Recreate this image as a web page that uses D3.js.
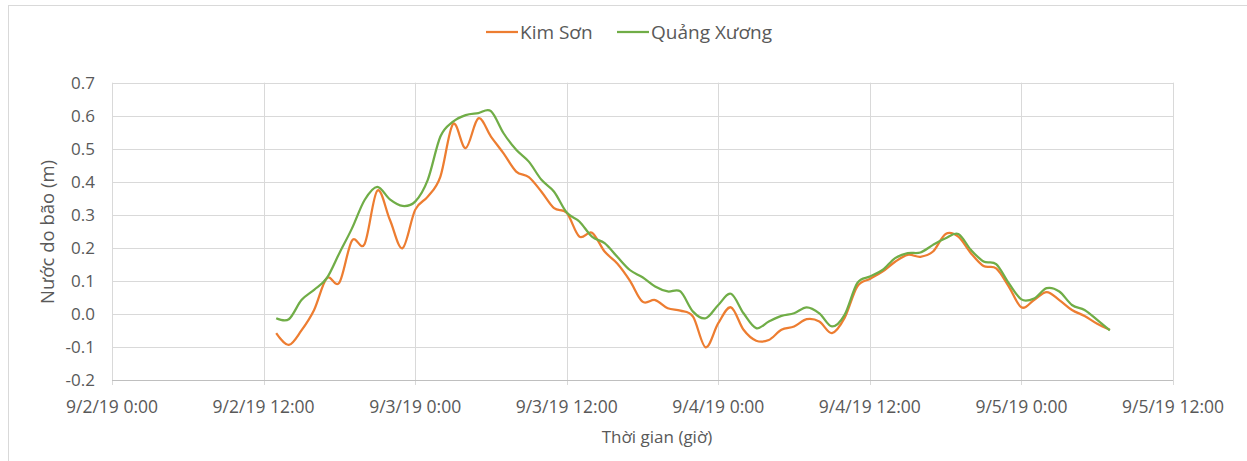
<!DOCTYPE html>
<html>
<head>
<meta charset="utf-8">
<script src="https://cdn.jsdelivr.net/npm/d3@7"></script>
<style>
  body { margin: 0; background: #fff; }
  text { font-family: "Open Sans", "Noto Sans", sans-serif; fill: #595959; }
</style>
</head>
<body>
<script>
const width = 1247;
const height = 461;

// hourly readings, starting 9/2/2019 13:00
const startTime = new Date(2019, 8, 2, 13, 0);

const kimSon = [
  -0.058, -0.094, -0.05, 0.012, 0.108, 0.095, 0.222, 0.212, 0.373, 0.285,
  0.199, 0.315, 0.355, 0.416, 0.575, 0.502, 0.592, 0.537, 0.486, 0.431,
  0.414, 0.370, 0.320, 0.306, 0.234, 0.246, 0.189, 0.153, 0.101, 0.037,
  0.042, 0.017, 0.010, -0.008, -0.101, -0.028, 0.020, -0.048, -0.081, -0.079,
  -0.048, -0.038, -0.016, -0.023, -0.058, -0.012, 0.083, 0.106, 0.128, 0.158,
  0.179, 0.173, 0.189, 0.242, 0.234, 0.184, 0.145, 0.138, 0.083, 0.020,
  0.042, 0.066, 0.042, 0.012, -0.006, -0.030, -0.048
];

const quangXuong = [
  -0.013, -0.016, 0.042, 0.073, 0.108, 0.184, 0.259, 0.345, 0.385, 0.347,
  0.327, 0.340, 0.406, 0.537, 0.582, 0.602, 0.608, 0.614, 0.547, 0.497,
  0.461, 0.406, 0.370, 0.307, 0.280, 0.234, 0.214, 0.173, 0.133, 0.111,
  0.083, 0.068, 0.068, 0.007, -0.013, 0.027, 0.061, 0.002, -0.043, -0.023,
  -0.006, 0.002, 0.020, 0.002, -0.038, -0.003, 0.093, 0.113, 0.133, 0.169,
  0.184, 0.186, 0.209, 0.229, 0.242, 0.194, 0.159, 0.151, 0.093, 0.044,
  0.047, 0.078, 0.068, 0.027, 0.012, -0.018, -0.050
];

const seriesNames = ["Kim Sơn", "Quảng Xương"];
const seriesColors = ["#ED7D31", "#70AD47"];
const yTicks = [-0.2, -0.1, 0.0, 0.1, 0.2, 0.3, 0.4, 0.5, 0.6, 0.7];
const xDomain = [new Date(2019, 8, 2, 0, 0), new Date(2019, 8, 5, 12, 0)];

const times = kimSon.map((d, i) => new Date(startTime.getTime() + i * 3600000));

const svg = d3.select("body").append("svg")
    .attr("width", width)
    .attr("height", height);

// chart frame
svg.append("rect")
    .attr("x", 8.5).attr("y", 5.5)
    .attr("width", width).attr("height", height)
    .attr("fill", "#fff")
    .attr("stroke", "#d9d9d9");

const x = d3.scaleTime().domain(xDomain).range([112, 1173]);
const y = d3.scaleLinear().domain([-0.2, 0.7]).range([380, 82.7]);

const xTicks = d3.timeHour.every(12).range(xDomain[0], d3.timeHour.offset(xDomain[1], 1));
const fmt = d3.timeFormat("%-m/%-d/%y %-H:%M");

// grid
svg.append("g")
    .selectAll("line")
    .data(yTicks.slice(1))
    .join("line")
    .attr("x1", 112).attr("x2", 1173)
    .attr("y1", d => Math.round(y(d)) + 0.5)
    .attr("y2", d => Math.round(y(d)) + 0.5)
    .attr("stroke", "#d9d9d9");

svg.append("g")
    .selectAll("line")
    .data(xTicks)
    .join("line")
    .attr("x1", d => Math.round(x(d)) + 0.5)
    .attr("x2", d => Math.round(x(d)) + 0.5)
    .attr("y1", 82.7).attr("y2", 385)
    .attr("stroke", "#d9d9d9");

// x axis line
svg.append("line")
    .attr("x1", 112).attr("x2", 1173)
    .attr("y1", 380.5).attr("y2", 380.5)
    .attr("stroke", "#bfbfbf");

// y labels
svg.append("g")
    .selectAll("text")
    .data(yTicks)
    .join("text")
    .attr("x", 95)
    .attr("y", d => y(d))
    .attr("dy", "0.35em")
    .attr("text-anchor", "end")
    .style("font-size", "17px")
    .text(d => d.toFixed(1));

// x labels
svg.append("g")
    .selectAll("text")
    .data(xTicks)
    .join("text")
    .attr("x", d => x(d))
    .attr("y", 413)
    .attr("text-anchor", "middle")
    .style("font-size", "17.5px")
    .text(d => fmt(d));

// axis titles
svg.append("text")
    .attr("x", 657).attr("y", 443)
    .attr("text-anchor", "middle")
    .style("font-size", "17px")
    .text("Thời gian (giờ)");

svg.append("text")
    .attr("transform", "translate(54,232) rotate(-90)")
    .attr("text-anchor", "middle")
    .style("font-size", "18.5px")
    .text("Nước do bão (m)");

// lines
const line = d3.line()
    .x((d, i) => x(times[i]))
    .y(d => y(d))
    .curve(d3.curveCardinal.tension(0));

[kimSon, quangXuong].forEach(function(s, k) {
    svg.append("path")
        .datum(s)
        .attr("d", line)
        .attr("fill", "none")
        .attr("stroke", seriesColors[k])
        .attr("stroke-width", 2.25)
        .attr("stroke-linejoin", "round");
});

// legend
const legendX = [486, 617];
const legend = svg.append("g")
    .selectAll("g")
    .data(seriesNames)
    .join("g")
    .attr("transform", (d, i) => `translate(${legendX[i]},32)`);

legend.append("line")
    .attr("x1", 0).attr("x2", 32)
    .attr("stroke", (d, i) => seriesColors[i])
    .attr("stroke-width", 2.25);

legend.append("text")
    .attr("x", 34)
    .attr("dy", "0.35em")
    .style("font-size", "19px")
    .text(d => d);
</script>
</body>
</html>
